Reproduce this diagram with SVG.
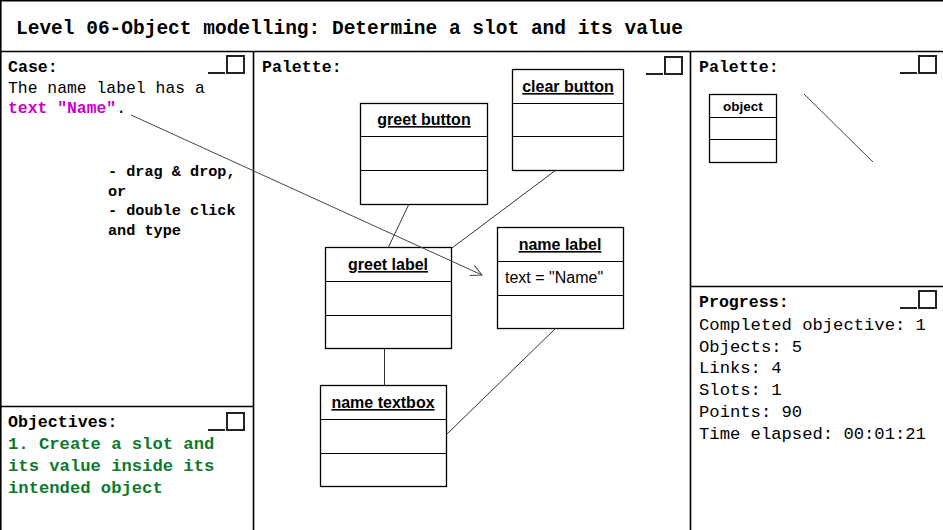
<svg xmlns="http://www.w3.org/2000/svg" width="943" height="530" viewBox="0 0 943 530">
<style>
.frame{stroke:#000;stroke-width:1.6;fill:none}
.mono{font-family:"Liberation Mono","DejaVu Sans Mono",monospace}
.head{font-family:"Liberation Mono","DejaVu Sans Mono",monospace;font-weight:bold;font-size:16.6px;fill:#000}
.body{font-family:"Liberation Mono","DejaVu Sans Mono",monospace;font-size:17.2px;fill:#000}
.box{fill:#fff;stroke:#000;stroke-width:1.3}
.div{stroke:#000;stroke-width:1.2}
.title{font-family:"Liberation Sans",Arial,sans-serif;font-weight:bold;font-size:16px;text-anchor:middle;text-decoration:underline;fill:#000}
.slot{font-family:"Liberation Sans",Arial,sans-serif;font-size:16px;fill:#000}
.link{stroke:#333;stroke-width:1;fill:none}
.min{stroke:#222;stroke-width:2;fill:none}
</style>
<defs>
<marker id="open" markerUnits="userSpaceOnUse" markerWidth="14" markerHeight="14" refX="12" refY="6" orient="auto" viewBox="0 0 14 12">
<path d="M1,0.5 L12,6 L1,11.5" fill="none" stroke="#444" stroke-width="1"/>
</marker>
<g id="minbtn">
<line x1="0" y1="17" x2="17" y2="17" class="min"/>
<rect x="19" y="0" width="17" height="17" class="min"/>
</g>
</defs>
<rect width="943" height="530" fill="#fff"/>

<g id="frame">
<line x1="0" y1="0.8" x2="943" y2="0.8" class="frame"/>
<line x1="0.8" y1="0" x2="0.8" y2="530" class="frame"/>
<line x1="0" y1="51.5" x2="943" y2="51.5" class="frame"/>
<line x1="253.5" y1="51.5" x2="253.5" y2="530" class="frame"/>
<line x1="690.5" y1="51.5" x2="690.5" y2="530" class="frame"/>
<line x1="0" y1="406.5" x2="253.5" y2="406.5" class="frame"/>
<line x1="690.5" y1="286.5" x2="943" y2="286.5" class="frame"/>
</g>

<g id="title">
<text x="16" y="34" class="mono" font-weight="bold" font-size="19.5px">Level 06-Object modelling: Determine a slot and its value</text>
</g>

<g id="case-panel">
<text x="8" y="72" class="head">Case:</text>
<use href="#minbtn" x="208" y="56"/>
<text x="8" y="93" class="mono" font-size="16.4px">The name label has a</text>
<text x="8" y="113" class="mono" font-size="16.4px"><tspan fill="#cc00cc" font-weight="bold">text "Name"</tspan>.</text>
<g class="mono" font-weight="bold" font-size="15.2px">
<text x="108" y="176">- drag &amp; drop,</text>
<text x="108" y="196">or</text>
<text x="108" y="215">- double click</text>
<text x="108" y="235">and type</text>
</g>
</g>

<g id="objectives-panel">
<text x="8" y="427" class="head" font-size="17.2px">Objectives:</text>
<use href="#minbtn" x="208" y="413"/>
<g class="mono" font-weight="bold" font-size="17.2px" fill="#0b7a2c">
<text x="8" y="449">1. Create a slot and</text>
<text x="8" y="471">its value inside its</text>
<text x="8" y="493">intended object</text>
</g>
</g>

<g id="palette-panel">
<text x="262" y="72" class="head">Palette:</text>
<use href="#minbtn" x="646" y="57"/>
</g>

<g id="tool-palette">
<text x="699" y="72" class="head">Palette:</text>
<use href="#minbtn" x="900" y="56"/>
<g id="tool-object">
<rect x="709.5" y="94.5" width="67" height="68" class="box"/>
<line x1="709.5" y1="117.5" x2="776.5" y2="117.5" class="div"/>
<line x1="709.5" y1="139.5" x2="776.5" y2="139.5" class="div"/>
<text x="743" y="111" font-family="'Liberation Sans',Arial,sans-serif" font-weight="bold" font-size="13.5px" text-anchor="middle">object</text>
</g>
<line id="tool-link" x1="804" y1="94" x2="873" y2="162" stroke="#444" stroke-width="1"/>
</g>

<g id="progress-panel">
<text x="699" y="307" class="head" font-size="17.2px">Progress:</text>
<use href="#minbtn" x="900" y="291"/>
<text x="699" y="330" class="body">Completed objective: 1</text>
<text x="699" y="352" class="body">Objects: 5</text>
<text x="699" y="373" class="body">Links: 4</text>
<text x="699" y="395" class="body">Slots: 1</text>
<text x="699" y="417" class="body">Points: 90</text>
<text x="699" y="439" class="body">Time elapsed: 00:01:21</text>
</g>

<g id="greet-button">
<rect x="360.5" y="103.5" width="127" height="101" class="box"/>
<line x1="360.5" y1="136.5" x2="487.5" y2="136.5" class="div"/>
<line x1="360.5" y1="170.5" x2="487.5" y2="170.5" class="div"/>
<text x="424" y="125" class="title">greet button</text>
</g>

<g id="clear-button">
<rect x="512.5" y="69.5" width="111" height="101" class="box"/>
<line x1="512.5" y1="103.5" x2="623.5" y2="103.5" class="div"/>
<line x1="512.5" y1="136.5" x2="623.5" y2="136.5" class="div"/>
<text x="568" y="92" class="title">clear button</text>
</g>

<g id="greet-label">
<rect x="325.5" y="247.5" width="126" height="101" class="box"/>
<line x1="325.5" y1="281.5" x2="451.5" y2="281.5" class="div"/>
<line x1="325.5" y1="315.5" x2="451.5" y2="315.5" class="div"/>
<text x="388" y="270" class="title">greet label</text>
</g>

<g id="name-label">
<rect x="497.5" y="227.5" width="126" height="101" class="box"/>
<line x1="497.5" y1="261.5" x2="623.5" y2="261.5" class="div"/>
<line x1="497.5" y1="295.5" x2="623.5" y2="295.5" class="div"/>
<text x="560" y="250" class="title">name label</text>
<text x="505" y="283" class="slot">text = "Name"</text>
</g>

<g id="name-textbox">
<rect x="320.5" y="385.5" width="126" height="101" class="box"/>
<line x1="320.5" y1="419.5" x2="446.5" y2="419.5" class="div"/>
<line x1="320.5" y1="453.5" x2="446.5" y2="453.5" class="div"/>
<text x="383" y="408" class="title">name textbox</text>
</g>

<g id="connectors">
<line x1="409" y1="204" x2="388" y2="248" class="link"/>
<line x1="556" y1="170" x2="452" y2="248" class="link"/>
<line x1="384.5" y1="348" x2="384.5" y2="385" class="link"/>
<line x1="556" y1="328" x2="447" y2="434" class="link"/>
<line x1="131" y1="115" x2="482" y2="275" stroke="#444" stroke-width="1" marker-end="url(#open)"/>
</g>
</svg>
